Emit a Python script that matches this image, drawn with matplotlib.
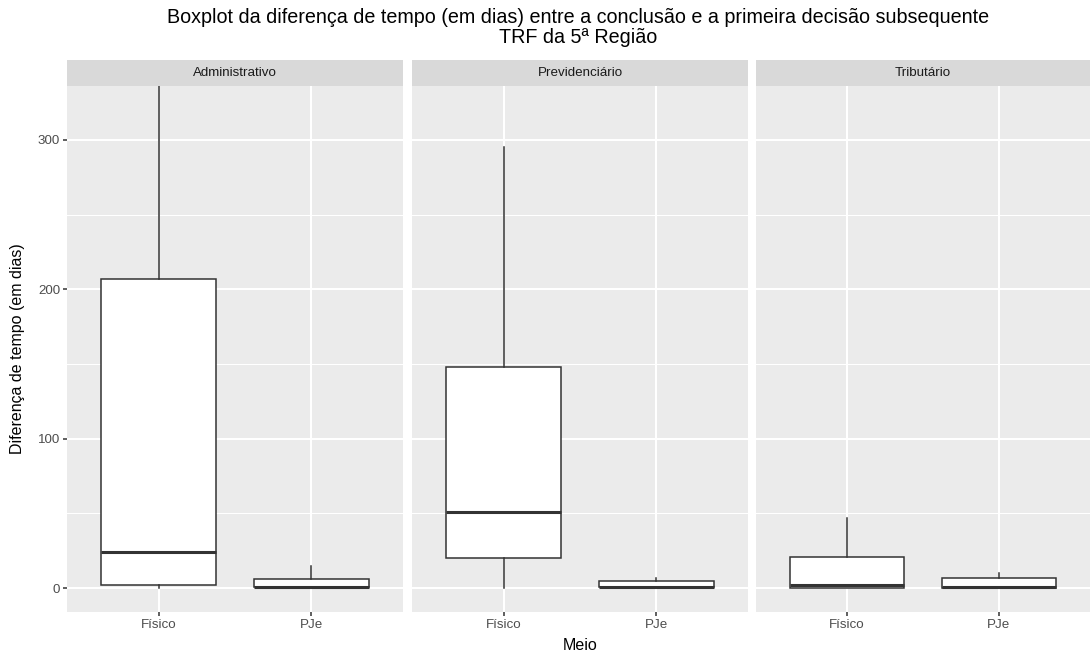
import matplotlib
matplotlib.use("Agg")
import matplotlib.pyplot as plt

plt.rcParams['font.family'] = ['Liberation Sans', 'DejaVu Sans']

# Facets and x categories
panels = ["Administrativo", "Previdenciário", "Tributário"]
meios = ["Físico", "PJe"]

# Five-number summaries (days): [whisker_low, q1, median, q3, whisker_high]
administrativo = [[0, 2, 24, 207, 336], [0, 1, 1, 6, 15]]
previdenciario = [[0, 20, 51, 148, 295], [0, 1, 1, 5, 7]]
tributario = [[0, 0, 2, 21, 47], [0, 0, 1, 7, 10]]

yticks = [0, 100, 200, 300]
yminor = [50, 150, 250]
ylim = (-16, 336)

W, H = 1092, 654
fig = plt.figure(figsize=(W / 100, H / 100), dpi=100)

panel_x = [(67, 403), (412, 748), (756, 1090)]
top_px, bottom_px = 86, 612
strip_top = 60
ph = bottom_px - top_px

bg = "#EBEBEB"
strip_bg = "#D9D9D9"
dark = "#333333"
grey30 = "#4D4D4D"

data = [administrativo, previdenciario, tributario]

for i, (name, stats5) in enumerate(zip(panels, data)):
    x0, x1 = panel_x[i]
    pw = x1 - x0
    ax = fig.add_axes([x0 / W, 1 - bottom_px / H, pw / W, ph / H])
    ax.set_facecolor(bg)
    for s in ax.spines.values():
        s.set_visible(False)
    for yv in yminor:
        ax.axhline(yv, color="white", lw=0.75, zorder=0)
    for yv in yticks:
        ax.axhline(yv, color="white", lw=1.5, zorder=0)
    for xv in (1, 2):
        ax.axvline(xv, color="white", lw=1.5, zorder=0)

    stats = []
    for m, (lo, q1, med, q3, hi) in zip(meios, stats5):
        stats.append(dict(whislo=lo, q1=q1, med=med, q3=q3, whishi=hi, fliers=[], label=m))
    ax.bxp(stats, positions=[1, 2], widths=0.75, patch_artist=True, showcaps=False,
           boxprops=dict(facecolor="white", edgecolor=dark, linewidth=1.1),
           whiskerprops=dict(color=dark, linewidth=1.1),
           medianprops=dict(color=dark, linewidth=2.2),
           zorder=3)
    ax.set_xlim(0.4, 2.6)
    ax.set_ylim(*ylim)
    ax.set_xticks([1, 2])
    ax.set_xticklabels(meios, fontsize=9.6, color=grey30)
    ax.tick_params(axis="both", length=2.75, width=1.1, color=dark, pad=2.2)
    ax.set_yticks(yticks)
    if i == 0:
        ax.set_yticklabels([str(v) for v in yticks], fontsize=9.6, color=grey30)
        ax.set_ylabel("Diferença de tempo (em dias)", fontsize=11.5, color="black")
        ax.yaxis.set_label_coords((25 - x0) / pw, 0.5)
    else:
        ax.tick_params(axis="y", length=0, labelleft=False)
    if i == 1:
        ax.set_xlabel("Meio", fontsize=11.5, color="black")
        ax.xaxis.set_label_coords(0.5, (bottom_px - 645) / ph)
        ax.xaxis.label.set_va("center")

    sax = fig.add_axes([x0 / W, 1 - top_px / H, pw / W, (top_px - strip_top) / H])
    sax.set_facecolor(strip_bg)
    for s in sax.spines.values():
        s.set_visible(False)
    sax.set_xticks([])
    sax.set_yticks([])
    sax.text(0.5, 0.5, name, ha="center", va="center", fontsize=9.6, color="#1A1A1A",
             transform=sax.transAxes)

# Title centred over the panel area
title_cx = (panel_x[0][0] + panel_x[-1][1]) / 2 / W
title_lines = ["Boxplot da diferença de tempo (em dias) entre a conclusão e a primeira decisão subsequente",
               "TRF da 5ª Região"]
for line, base_px in zip(title_lines, (23, 43)):
    fig.text(title_cx, 1 - base_px / H, line, ha="center", va="baseline", fontsize=14.2, color="black")

fig.savefig("out.png", dpi=100)
